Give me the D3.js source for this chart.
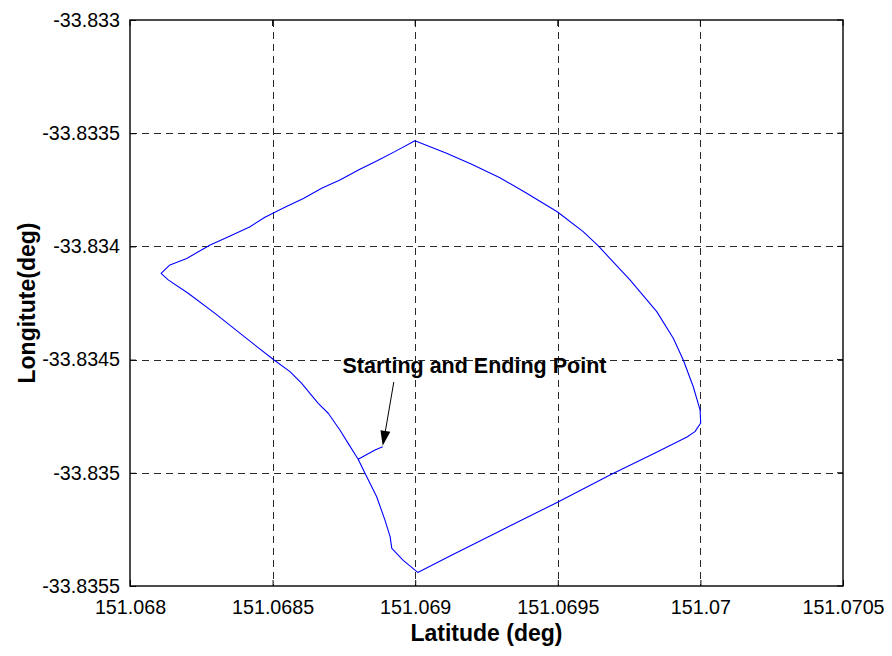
<!DOCTYPE html>
<html>
<head>
<meta charset="utf-8">
<script src="https://cdn.jsdelivr.net/npm/d3@7"></script>
<style>
  html, body { margin: 0; padding: 0; background: #fff; }
  svg { display: block; }
  text { font-family: "Liberation Sans", Arial, sans-serif; }
</style>
</head>
<body>
<svg id="chart" width="892" height="656"></svg>
<script>
// GPS track of the test drive (one lap)
const latitude = [
  151.068886, 151.068859, 151.068800, 151.068824, 151.068865, 151.068894,
  151.068912, 151.068918, 151.068958, 151.069009, 151.069122, 151.069297,
  151.069494, 151.069683, 151.069841, 151.069953, 151.069981, 151.070001,
  151.069999, 151.069975, 151.069940, 151.069905, 151.069847, 151.069753,
  151.069642, 151.069589, 151.069498, 151.069391, 151.069297, 151.069198,
  151.069110, 151.068999, 151.068935, 151.068865, 151.068806, 151.068736,
  151.068672, 151.068608, 151.068543, 151.068473, 151.068421, 151.068351,
  151.068281, 151.068199, 151.068140, 151.068109, 151.068134, 151.068204,
  151.068298, 151.068415, 151.068505, 151.068561, 151.068602, 151.068660,
  151.068695, 151.068736, 151.068765, 151.068800, 151.068859, 151.068886
];
const longitude = [
  -33.834885, -33.834899, -33.834940, -33.835002, -33.835106, -33.835209,
  -33.835282, -33.835334, -33.835387, -33.835440, -33.835368, -33.835257,
  -33.835133, -33.835010, -33.834913, -33.834842, -33.834818, -33.834780,
  -33.834723, -33.834620, -33.834502, -33.834406, -33.834288, -33.834148,
  -33.833998, -33.833935, -33.833847, -33.833765, -33.833697, -33.833637,
  -33.833589, -33.833533, -33.833577, -33.833623, -33.833659, -33.833707,
  -33.833743, -33.833788, -33.833827, -33.833871, -33.833913, -33.833954,
  -33.833994, -33.834053, -33.834082, -33.834119, -33.834148, -33.834207,
  -33.834296, -33.834413, -33.834502, -33.834553, -33.834605, -33.834693,
  -33.834737, -33.834811, -33.834870, -33.834940, -33.834899, -33.834885
];

const xTicks = [151.068, 151.0685, 151.069, 151.0695, 151.07, 151.0705];
const yTicks = [-33.833, -33.8335, -33.834, -33.8345, -33.835, -33.8355];
const xTickLabels = ["151.068", "151.0685", "151.069", "151.0695", "151.07", "151.0705"];
const yTickLabels = ["-33.833", "-33.8335", "-33.834", "-33.8345", "-33.835", "-33.8355"];

// annotation: label position and the point the arrow points to
const noteText = "Starting and Ending Point";
const noteAnchor = [151.068925, -33.834599];   // arrow tail (lat, lon)
const notePoint = [151.068886, -33.834885];    // arrow tip = start of track
const noteLabel = [151.068745, -33.834560];    // text left/baseline

const W = 892, H = 656;
const m = { left: 130, right: 49, top: 20, bottom: 70 };

const svg = d3.select("#chart");

const x = d3.scaleLinear().domain([151.068, 151.0705]).range([m.left, W - m.right]);
const y = d3.scaleLinear().domain([-33.8355, -33.833]).range([H - m.bottom, m.top]);

const x0 = x.range()[0], x1 = x.range()[1];
const y0 = y.range()[0], y1 = y.range()[1];

// grid
const grid = svg.append("g").attr("stroke", "#2a2a2a").attr("stroke-width", 1)
  .attr("stroke-dasharray", "7,5").attr("fill", "none");
xTicks.slice(1, -1).forEach(v => {
  const px = Math.round(x(v)) + 0.5;
  grid.append("line").attr("x1", px).attr("x2", px).attr("y1", y1).attr("y2", y0);
});
yTicks.slice(1, -1).forEach(v => {
  const py = Math.round(y(v)) + 0.5;
  grid.append("line").attr("x1", x0).attr("x2", x1).attr("y1", py).attr("y2", py);
});

// axes with inward ticks
const xAxis = d3.axisBottom(x).tickValues(xTicks).tickFormat((d, i) => xTickLabels[i])
  .tickSizeInner(-6).tickSizeOuter(0).tickPadding(14);
const yAxis = d3.axisLeft(y).tickValues(yTicks).tickFormat((d, i) => yTickLabels[i])
  .tickSizeInner(-6).tickSizeOuter(0).tickPadding(10);

const gx = svg.append("g").attr("transform", `translate(0,${y0})`).call(xAxis);
const gy = svg.append("g").attr("transform", `translate(${x0},0)`).call(yAxis);
[gx, gy].forEach(g => {
  g.select(".domain").remove();
  g.selectAll(".tick line").attr("stroke", "#000");
  g.selectAll(".tick text").attr("fill", "#000").style("font-size", "19.7px")
    .style("font-family", "'Liberation Sans', Arial, sans-serif");
});
gx.selectAll(".tick text").attr("dy", "0.71em");

// mirrored ticks on top and right
const mirror = svg.append("g").attr("stroke", "#000");
xTicks.forEach(v => {
  mirror.append("line").attr("x1", x(v)).attr("x2", x(v)).attr("y1", y1).attr("y2", y1 + 6);
});
yTicks.forEach(v => {
  mirror.append("line").attr("x1", x1).attr("x2", x1 - 6).attr("y1", y(v)).attr("y2", y(v));
});

// frame
svg.append("rect").attr("x", x0).attr("y", y1).attr("width", x1 - x0).attr("height", y0 - y1)
  .attr("fill", "none").attr("stroke", "#000").attr("stroke-width", 1.4);

// track
const track = d3.range(latitude.length).map(i => [latitude[i], longitude[i]]);
const line = d3.line().x(d => x(d[0])).y(d => y(d[1]));
svg.append("path").datum(track).attr("d", line)
  .attr("fill", "none").attr("stroke", "#0000ff").attr("stroke-width", 1.1)
  .attr("stroke-linejoin", "round");

// annotation arrow
const ax0 = x(noteAnchor[0]), ay0 = y(noteAnchor[1]);
const ax1 = x(notePoint[0]), ay1 = y(notePoint[1]);
const ang = Math.atan2(ay1 - ay0, ax1 - ax0);
const headLen = 16, headHalf = 5;
const bx = ax1 - headLen * Math.cos(ang), by = ay1 - headLen * Math.sin(ang);
svg.append("line").attr("x1", ax0).attr("y1", ay0).attr("x2", bx).attr("y2", by)
  .attr("stroke", "#000").attr("stroke-width", 1);
const nx = -Math.sin(ang), ny = Math.cos(ang);
svg.append("path")
  .attr("d", `M${ax1},${ay1 - 1}L${bx + headHalf * nx},${by + headHalf * ny}L${bx - headHalf * nx},${by - headHalf * ny}Z`)
  .attr("fill", "#000");

svg.append("text").attr("x", x(noteLabel[0])).attr("y", y(noteLabel[1]))
  .style("font-size", "21.5px").style("font-weight", "bold").attr("fill", "#000")
  .text(noteText);

// axis titles
svg.append("text").attr("x", (x0 + x1) / 2).attr("y", 641).attr("text-anchor", "middle")
  .style("font-size", "23px").style("font-weight", "bold").text("Latitude (deg)");
svg.append("text").attr("transform", `translate(35,${(y0 + y1) / 2}) rotate(-90)`)
  .attr("text-anchor", "middle")
  .style("font-size", "23px").style("font-weight", "bold").text("Longitute(deg)");
</script>
</body>
</html>
